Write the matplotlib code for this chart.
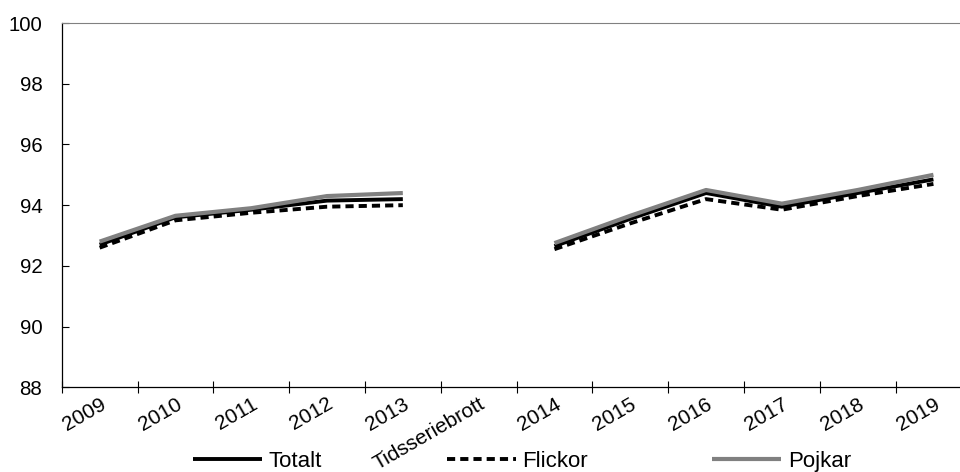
import numpy as np
import matplotlib
matplotlib.use('Agg')
import matplotlib.pyplot as plt

plt.rcParams['font.family'] = ['Liberation Sans', 'DejaVu Sans']

# ----------- DATA -----------
categories = ['2009', '2010', '2011', '2012', '2013', 'Tidsseriebrott',
              '2014', '2015', '2016', '2017', '2018', '2019']
totalt = [92.7, 93.6, 93.85, 94.15, 94.2, np.nan, 92.65, 93.55, 94.4, 93.95, 94.4, 94.85]
flickor = [92.6, 93.5, 93.75, 93.95, 94.0, np.nan, 92.55, 93.4, 94.2, 93.85, 94.3, 94.7]
pojkar = [92.8, 93.65, 93.9, 94.3, 94.4, np.nan, 92.75, 93.65, 94.5, 94.05, 94.5, 95.0]
y_ticks = [88, 90, 92, 94, 96, 98, 100]

# ----------- PLOT -----------
fig = plt.figure(figsize=(9.6, 4.72), dpi=100)
# the plot area runs past the right edge of the picture, as in the original
ax = fig.add_axes([0.0643, 0.1794, 0.9475, 0.7718])

x = np.arange(len(categories))
ax.plot(x, totalt, color='black', lw=2.8, label='Totalt', solid_capstyle='butt')
ax.plot(x, flickor, color='black', lw=2.8, dashes=(2.1, 1.3), label='Flickor')
ax.plot(x, pojkar, color='#808080', lw=3.0, label='Pojkar', solid_capstyle='butt')

ax.set_xlim(-0.5, len(categories) - 0.5)
ax.set_ylim(88, 100)
ax.set_yticks(y_ticks)

ax.set_xticks(x)
ax.set_xticklabels(categories, rotation=30, ha='right', rotation_mode='anchor')
ax.set_xticks(np.arange(-0.5, len(categories), 1), minor=True)
ax.tick_params(axis='x', which='major', length=0, pad=5, labelsize=15)
ax.tick_params(axis='x', which='minor', direction='inout', length=9, width=0.8)
ax.tick_params(axis='y', direction='in', length=5, width=0.8, pad=14, labelsize=14.7)

ax.spines['right'].set_visible(False)
ax.spines['top'].set_color('#808080')
for s in ['left', 'bottom']:
    ax.spines[s].set_linewidth(0.9)

fig.legend(loc='center', bbox_to_anchor=(0.544, 0.023), ncol=3, frameon=False,
           fontsize=16, handlelength=3.1, handletextpad=0.3, columnspacing=5.6)

fig.savefig('out.png', dpi=100)
